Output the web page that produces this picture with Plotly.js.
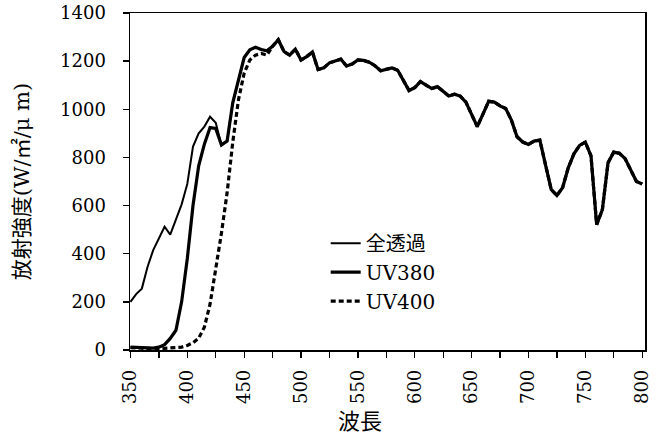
<!DOCTYPE html>
<html>
<head>
<meta charset="utf-8">
<script src="https://cdn.plot.ly/plotly-3.0.1.min.js"></script>
<style>
html,body{margin:0;padding:0;background:#fff}
#chart{width:657px;height:436px}
</style>
</head>
<body>
<div id="chart"></div>
<script>
const wavelength = [350,355,360,365,370,375,380,385,390,395,400,405,410,415,420,425,430,435,440,445,450,455,460,465,470,475,480,485,490,495,500,505,510,515,520,525,530,535,540,545,550,555,560,565,570,575,580,585,590,595,600,605,610,615,620,625,630,635,640,645,650,655,660,665,670,675,680,685,690,695,700,705,710,715,720,725,730,735,740,745,750,755,760,765,770,775,780,785,790,795,800];

const seriesNames = ['全透過','UV380','UV400'];

const allTrans = [200,232,255,345,415,462,512,479,540,605,690,845,900,928,969,944,852,868,1028,1125,1215,1247,1258,1248,1243,1262,1289,1240,1225,1250,1205,1219,1238,1165,1172,1193,1200,1208,1180,1188,1205,1203,1196,1181,1160,1165,1172,1162,1120,1078,1090,1115,1100,1086,1094,1075,1055,1063,1055,1030,979,928,980,1033,1030,1014,1003,955,886,864,854,868,872,770,667,642,674,757,815,850,864,806,521,583,778,822,817,795,750,700,690];

const uv380 = [12,10,8,9,8,12,22,48,82,200,380,600,765,855,924,920,852,868,1028,1125,1215,1247,1258,1248,1243,1262,1289,1240,1225,1250,1205,1219,1238,1165,1172,1193,1200,1208,1180,1188,1205,1203,1196,1181,1160,1165,1172,1162,1120,1078,1090,1115,1100,1086,1094,1075,1055,1063,1055,1030,979,928,980,1033,1030,1014,1003,955,886,864,854,868,872,770,667,642,674,757,815,850,864,806,521,583,778,822,817,795,750,700,690];

const uv400 = [10,8,6,5,5,5,6,7,8,12,19,30,49,95,190,330,485,653,865,1040,1150,1205,1225,1232,1225,1262,1289,1240,1225,1250,1205,1219,1238,1165,1172,1193,1200,1208,1180,1188,1205,1203,1196,1181,1160,1165,1172,1162,1120,1078,1090,1115,1100,1086,1094,1075,1055,1063,1055,1030,979,928,980,1033,1030,1014,1003,955,886,864,854,868,872,770,667,642,674,757,815,850,864,806,521,583,778,822,817,795,750,700,690];

const xTickVals = [350,375,400,425,450,475,500,525,550,575,600,625,650,675,700,725,750,775,800];
const xTickText = ['350','','400','','450','','500','','550','','600','','650','','700','','750','','800'];

const xTitle = '波長';
const yTitle = '放射強度(W/㎡/μ m)';

const FONT = 'DejaVu Serif, Noto Sans CJK JP, serif';

const traces = [
  {x: wavelength, y: allTrans, name: seriesNames[0], mode: 'lines', line: {color: '#000', width: 2}},
  {x: wavelength, y: uv380, name: seriesNames[1], mode: 'lines', line: {color: '#000', width: 3.2}},
  {x: wavelength, y: uv400, name: seriesNames[2], mode: 'lines', line: {color: '#000', width: 3.2, dash: '5px,3px'}}
];

const layout = {
  width: 657, height: 436,
  margin: {l: 129.5, r: 12, t: 13, b: 86},
  paper_bgcolor: '#fff', plot_bgcolor: '#fff',
  font: {family: FONT, size: 19, color: '#000'},
  showlegend: true,
  legend: {x: 0.38, y: 0.375, xanchor: 'left', yanchor: 'top', bgcolor: 'rgba(0,0,0,0)', font: {family: FONT, size: 20, color: '#000'}, tracegroupgap: 0},
  xaxis: {
    range: [349.6, 802.5], tickmode: 'array', tickvals: xTickVals, ticktext: xTickText,
    tickangle: -90, ticks: 'outside', ticklen: 6, tickwidth: 1.3, tickcolor: '#000',
    showline: true, linecolor: '#000', linewidth: 1.5, mirror: true,
    showgrid: false, zeroline: false, ticklabelstandoff: 5,
    tickfont: {family: FONT, size: 18, color: '#000'}
  },
  yaxis: {
    range: [0, 1400], dtick: 200, ticks: 'outside', ticklen: 6, tickwidth: 1.3, tickcolor: '#000',
    showline: true, linecolor: '#000', linewidth: 1.5, mirror: true,
    showgrid: false, zeroline: false, ticklabelstandoff: 13,
    tickfont: {family: FONT, size: 18, color: '#000'},
    title: {text: yTitle, font: {family: FONT, size: 21, color: '#000'}, standoff: 24}
  },
  annotations: [
    {text: xTitle, xref: 'paper', yref: 'paper', x: 0.447, y: -0.211, xanchor: 'center', yanchor: 'middle', showarrow: false, font: {family: FONT, size: 22, color: '#000'}}
  ]
};

Plotly.newPlot('chart', traces, layout, {displayModeBar: false, staticPlot: true});
</script>
</body>
</html>
